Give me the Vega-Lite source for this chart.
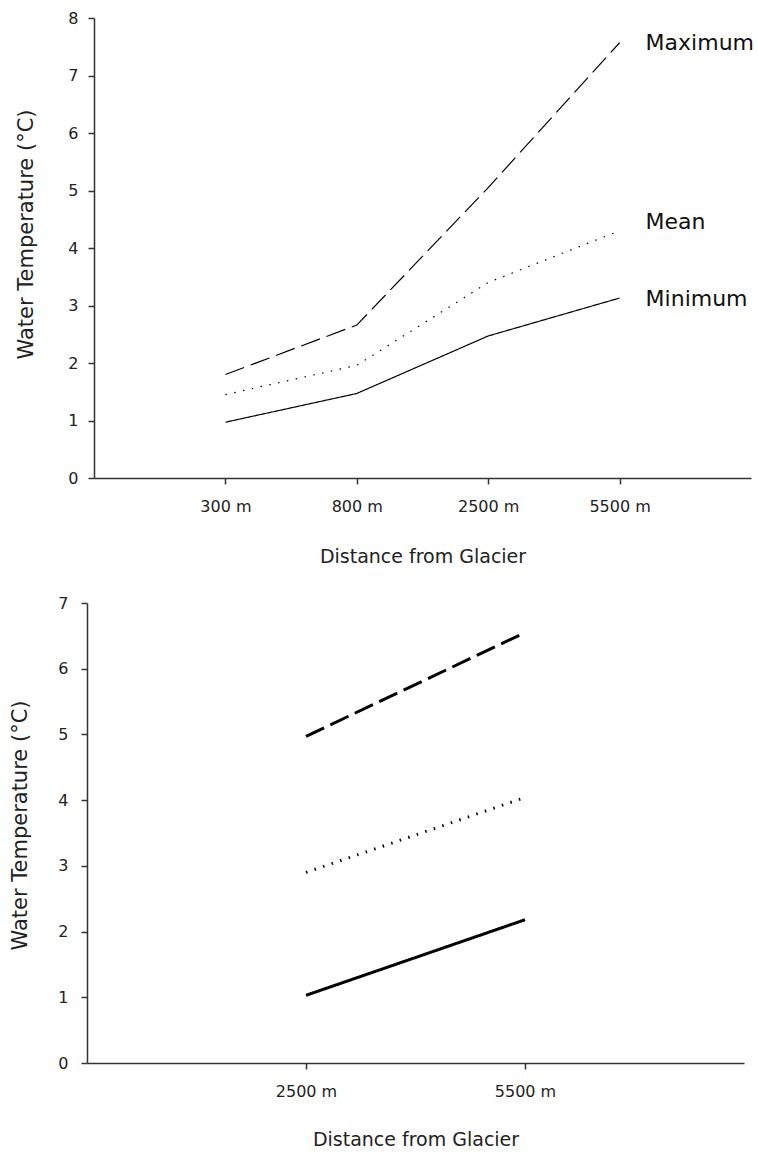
{
  "$schema": "https://vega.github.io/schema/vega-lite/v6.json",
  "padding": {"left": 9, "top": 10, "right": 0, "bottom": 0},
  "background": "white",
  "spacing": 29,
  "config": {
    "view": {"stroke": null},
    "font": "DejaVu Sans",
    "axis": {
      "domainColor": "#333", "domainWidth": 1.5,
      "tickColor": "#333", "tickWidth": 1.5, "tickSize": 6,
      "labelColor": "#222", "titleColor": "#222",
      "labelFont": "DejaVu Sans", "titleFont": "DejaVu Sans",
      "labelFontSize": 16, "titleFontWeight": "normal", "grid": false
    }
  },
  "datasets": {
    "top": [
      {"series": "Maximum", "distance": "300 m", "temp": 1.8},
      {"series": "Maximum", "distance": "800 m", "temp": 2.66},
      {"series": "Maximum", "distance": "2500 m", "temp": 5.05},
      {"series": "Maximum", "distance": "5500 m", "temp": 7.57},
      {"series": "Mean", "distance": "300 m", "temp": 1.45},
      {"series": "Mean", "distance": "800 m", "temp": 1.96},
      {"series": "Mean", "distance": "2500 m", "temp": 3.4},
      {"series": "Mean", "distance": "5500 m", "temp": 4.3},
      {"series": "Minimum", "distance": "300 m", "temp": 0.97},
      {"series": "Minimum", "distance": "800 m", "temp": 1.47},
      {"series": "Minimum", "distance": "2500 m", "temp": 2.47},
      {"series": "Minimum", "distance": "5500 m", "temp": 3.13}
    ],
    "topLabels": [
      {"label": "Maximum", "distance": "5500 m", "temp": 7.57},
      {"label": "Mean", "distance": "5500 m", "temp": 4.45},
      {"label": "Minimum", "distance": "5500 m", "temp": 3.11}
    ],
    "bottom": [
      {"series": "Maximum", "distance": "2500 m", "temp": 4.97},
      {"series": "Maximum", "distance": "5500 m", "temp": 6.55},
      {"series": "Mean", "distance": "2500 m", "temp": 2.9},
      {"series": "Mean", "distance": "5500 m", "temp": 4.04},
      {"series": "Minimum", "distance": "2500 m", "temp": 1.03},
      {"series": "Minimum", "distance": "5500 m", "temp": 2.18}
    ]
  },
  "vconcat": [
    {
      "width": 657,
      "height": 460,
      "layer": [
        {
          "data": {"name": "top"},
          "mark": {"type": "line", "color": "black", "strokeWidth": 1.2},
          "encoding": {
            "x": {
              "field": "distance", "type": "ordinal",
              "sort": ["300 m", "800 m", "2500 m", "5500 m"],
              "scale": {"type": "point", "padding": 1},
              "axis": {"title": "Distance from Glacier", "labelAngle": 0, "labelPadding": 14, "titlePadding": 33, "titleFontSize": 19}
            },
            "y": {
              "field": "temp", "type": "quantitative",
              "scale": {"domain": [0, 8], "nice": false},
              "axis": {"title": "Water Temperature (°C)", "values": [0, 1, 2, 3, 4, 5, 6, 7, 8], "format": "d", "labelPadding": 10, "titlePadding": 31, "titleFontSize": 21, "titleY": 216}
            },
            "strokeDash": {
              "field": "series", "type": "nominal",
              "scale": {"domain": ["Maximum", "Mean", "Minimum"], "range": [[20, 7], [1.5, 7.5], [1, 0]]},
              "legend": null
            },
            "order": {"value": null}
          }
        },
        {
          "data": {"name": "topLabels"},
          "mark": {"type": "text", "align": "left", "baseline": "middle", "dx": 26, "fontSize": 22, "color": "#111", "font": "DejaVu Sans"},
          "encoding": {
            "x": {"field": "distance", "type": "ordinal", "sort": ["300 m", "800 m", "2500 m", "5500 m"]},
            "y": {"field": "temp", "type": "quantitative"},
            "text": {"field": "label"}
          }
        }
      ]
    },
    {
      "width": 650,
      "height": 460,
      "data": {"name": "bottom"},
      "mark": {"type": "line", "color": "black", "strokeWidth": 3},
      "encoding": {
        "x": {
          "field": "distance", "type": "ordinal",
          "sort": ["2500 m", "5500 m"],
          "scale": {"type": "point", "padding": 1, "range": [-7, 650]},
          "axis": {"title": "Distance from Glacier", "labelAngle": 0, "labelPadding": 14, "titlePadding": 31, "titleFontSize": 19}
        },
        "y": {
          "field": "temp", "type": "quantitative",
          "scale": {"domain": [0, 7], "nice": false},
          "axis": {"title": "Water Temperature (°C)", "values": [0, 1, 2, 3, 4, 5, 6, 7], "format": "d", "offset": 7, "labelPadding": 13, "titlePadding": 27, "titleFontSize": 21, "titleY": 222}
        },
        "strokeDash": {
          "field": "series", "type": "nominal",
          "scale": {"domain": ["Maximum", "Mean", "Minimum"], "range": [[22, 9], [2.5, 7], [1, 0]]},
          "legend": null
        },
        "order": {"value": null}
      }
    }
  ]
}
